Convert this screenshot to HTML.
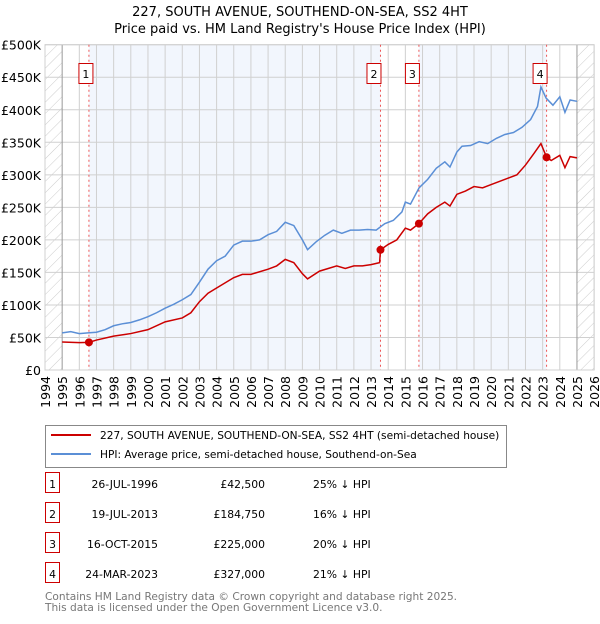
<!DOCTYPE html>
<html><head><meta charset="utf-8"><style>
body{margin:0;background:#fff;font-family:"DejaVu Sans","Liberation Sans",sans-serif;}
svg text{font-family:"DejaVu Sans","Liberation Sans",sans-serif;}
</style></head><body>
<svg id="c" width="600" height="620" xmlns="http://www.w3.org/2000/svg">
<defs><pattern id="h" width="8" height="8" patternUnits="userSpaceOnUse" patternTransform="rotate(45)"><line x1="0" y1="0" x2="0" y2="8" stroke="#ccc" stroke-width="1"/></pattern></defs>
<text x="300" y="16" text-anchor="middle" font-size="13">227, SOUTH AVENUE, SOUTHEND-ON-SEA, SS2 4HT</text>
<text x="300" y="33" text-anchor="middle" font-size="13">Price paid vs. HM Land Registry's House Price Index (HPI)</text>
<g id="plot"></g>
<g>
<rect x="45.5" y="425.5" width="461" height="42" fill="#fff" stroke="#888"/>
<line x1="51" y1="435" x2="91" y2="435" stroke="#cc0000" stroke-width="2"/>
<text x="100" y="439" font-size="10.6">227, SOUTH AVENUE, SOUTHEND-ON-SEA, SS2 4HT (semi-detached house)</text>
<line x1="51" y1="454" x2="91" y2="454" stroke="#5b8fd6" stroke-width="2"/>
<text x="100" y="458" font-size="10.6">HPI: Average price, semi-detached house, Southend-on-Sea</text>
</g>
<g id="tbl" font-size="10.8"></g>
<text x="45" y="600" font-size="10.6" fill="#777">Contains HM Land Registry data © Crown copyright and database right 2025.</text>
<text x="45" y="611" font-size="10.6" fill="#777">This data is licensed under the Open Government Licence v3.0.</text>
</svg>
<script>
const hpiYears=[1995,1995.5,1996,1996.5,1997,1997.5,1998,1998.5,1999,1999.5,2000,2000.5,2001,2001.5,2002,2002.5,2003,2003.5,2004,2004.5,2005,2005.5,2006,2006.5,2007,2007.5,2008,2008.5,2009,2009.3,2009.8,2010.3,2010.8,2011.3,2011.8,2012.3,2012.8,2013.3,2013.8,2014.3,2014.8,2015,2015.3,2015.8,2016.3,2016.8,2017.3,2017.6,2018,2018.3,2018.8,2019.3,2019.8,2020.3,2020.8,2021.3,2021.8,2022.3,2022.7,2022.9,2023.2,2023.6,2024,2024.3,2024.6,2025];
const hpiValues=[57,59,56,57,58,62,68,71,73,77,82,88,95,101,108,116,135,155,168,175,192,198,198,200,208,213,227,222,200,185,197,207,215,210,215,215,216,215,225,230,243,258,255,280,293,310,320,312,335,344,345,351,348,356,362,365,373,385,405,435,418,407,420,396,415,413];
const priceYears=[1995,1996,1996.56,1997,1998,1999,2000,2001,2002,2002.5,2003,2003.5,2004,2005,2005.5,2006,2007,2007.5,2008,2008.5,2009,2009.3,2010,2011,2011.5,2012,2012.5,2013,2013.5,2013.55,2014,2014.5,2015,2015.3,2015.79,2016.3,2016.8,2017.3,2017.6,2018,2018.5,2019,2019.5,2020,2020.5,2021,2021.5,2022,2022.5,2022.9,2023.23,2023.5,2024,2024.3,2024.6,2025];
const priceValues=[43,42,42.5,46,52,56,62,74,80,88,105,118,126,142,147,147,155,160,170,165,148,140,152,160,156,160,160,162,165,184.75,193,200,218,215,225,240,250,258,252,270,275,282,280,285,290,295,300,315,333,348,327,322,330,311,328,326];
const saleYears=[1996.56,2013.55,2015.79,2023.23];
const saleValues=[42.5,184.75,225,327];
const saleLabels=["1","2","3","4"];
const saleDates=["26-JUL-1996","19-JUL-2013","16-OCT-2015","24-MAR-2023"];
const salePrices=["£42,500","£184,750","£225,000","£327,000"];
const saleDiffs=["25% ↓ HPI","16% ↓ HPI","20% ↓ HPI","21% ↓ HPI"];
const yTicks=[0,50,100,150,200,250,300,350,400,450,500];
const yTickLabels=["£0","£50K","£100K","£150K","£200K","£250K","£300K","£350K","£400K","£450K","£500K"];
const xTicks=[];for(let y=1994;y<=2026;y++)xTicks.push(y);

const X=y=>45+(y-1994)*17.16, Y=v=>370-v*(325.3/500);
const NS="http://www.w3.org/2000/svg";
const g=document.getElementById('plot');
function mk(tag,at,parent){const e=document.createElementNS(NS,tag);for(const k in at)e.setAttribute(k,at[k]);(parent||g).appendChild(e);return e;}
const yTop=Y(500),yBot=Y(0);
let e=mk('rect',{x:X(1994),y:yTop,width:X(1995)-X(1994),height:yBot-yTop,fill:'url(#h)'});


e=mk('rect',{x:X(2025),y:yTop,width:X(2026)-X(2025),height:yBot-yTop,fill:'url(#h)'});


e=mk('rect',{x:X(saleYears[0]),y:yTop,width:X(saleYears[1])-X(saleYears[0]),height:yBot-yTop,fill:'#f2f6fd'});


e=mk('rect',{x:X(saleYears[2]),y:yTop,width:X(saleYears[3])-X(saleYears[2]),height:yBot-yTop,fill:'#f2f6fd'});


yTicks.forEach((v,i)=>{
 e=mk('line',{x1:X(1994),x2:X(2026),y1:Y(v),y2:Y(v),stroke:'#d0d0d0'});
 
 
 e=mk('text',{x:41,y:Y(v)+5,'text-anchor':'end','font-size':12.5});
 e.textContent=yTickLabels[i];
 
 
});
xTicks.forEach(y=>{
 e=mk('line',{x1:X(y),x2:X(y),y1:yTop,y2:yBot,stroke:(y==1995||y==2025)?'#999':'#d0d0d0'});
 
 
 e=mk('text',{x:0,y:0,'font-size':12.5,'text-anchor':'end',transform:`translate(${X(y)+5},${yBot+6}) rotate(-90)`});
 e.textContent=y;
 
 
});
e=mk('rect',{x:X(1994),y:yTop,width:X(2026)-X(1994),height:yBot-yTop,fill:'none',stroke:'#d0d0d0'});


saleYears.forEach((s,i)=>{
 e=mk('line',{x1:X(s),x2:X(s),y1:yTop,y2:yBot,stroke:'#ee5555','stroke-dasharray':'2,3'});
 
 
});
e=mk('polyline',{points:hpiYears.map((y,i)=>X(y)+','+Y(hpiValues[i])).join(' '),fill:'none',stroke:'#5b8fd6','stroke-width':1.5});


e=mk('polyline',{points:priceYears.map((y,i)=>X(y)+','+Y(priceValues[i])).join(' '),fill:'none',stroke:'#cc0000','stroke-width':1.5});


saleYears.forEach((s,i)=>{
 e=mk('circle',{cx:X(s),cy:Y(saleValues[i]),r:4,fill:'#cc0000'});
 
 
 const off=(i==0?-0.5:3);
 e=mk('rect',{x:X(s)-10.5-off,y:63.5,width:14,height:20,fill:'#fff',stroke:'#cc0000'});
 
 
 e=mk('text',{x:X(s)-3.5-off,y:78,'text-anchor':'middle','font-size':11});
 e.textContent=saleLabels[i];
 
 
});
const t=document.getElementById('tbl');
saleLabels.forEach((l,i)=>{
 const yy=488+i*30;
 e=mk('rect',{x:45.5,y:yy-15.5,width:14,height:20,fill:'#fff',stroke:'#cc0000'},t);
 
 
 const cells=[[l,52.5,'middle'],[saleDates[i],158,'end'],[salePrices[i],265,'end'],[saleDiffs[i],313,'start']];
 cells.forEach((c,j)=>{
  e=mk('text',{x:c[1],y:yy,'text-anchor':c[2]},t);
  e.textContent=c[0];
  
  
 });
});
</script>
</body></html>
